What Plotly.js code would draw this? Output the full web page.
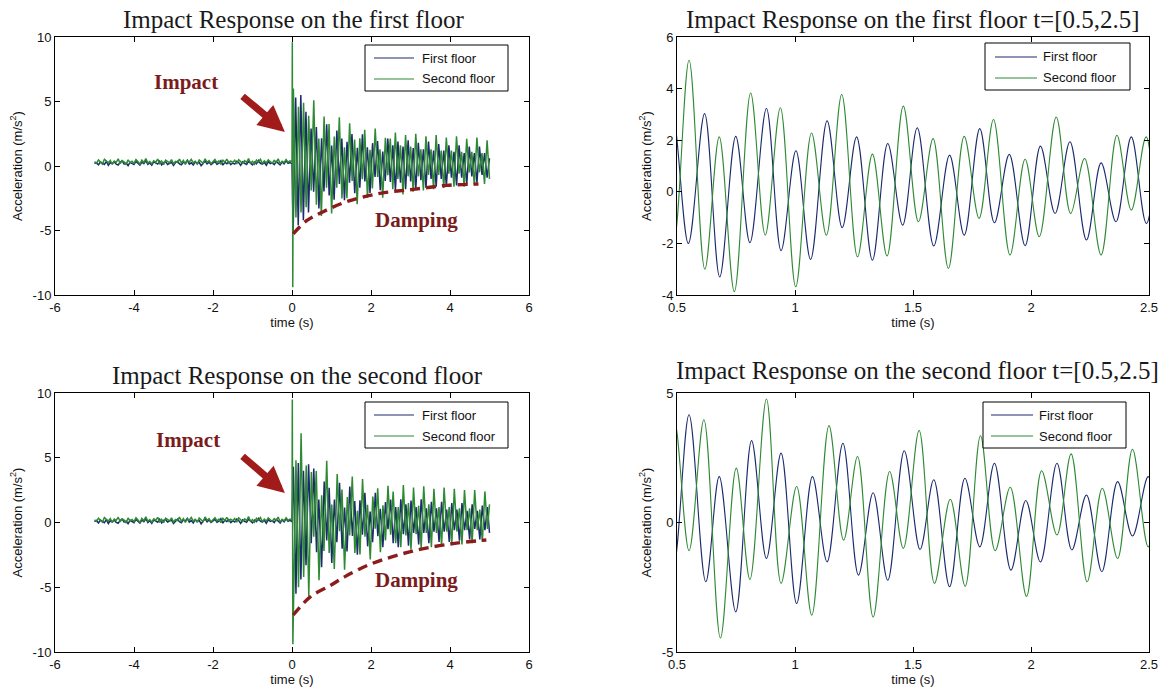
<!DOCTYPE html>
<html>
<head>
<meta charset="utf-8">
<script src="https://cdn.plot.ly/plotly-3.0.1.min.js"></script>
<style>
  html, body { margin: 0; padding: 0; background: #fff; }
  #chart { width: 1166px; height: 693px; }
</style>
</head>
<body>
<div id="chart"></div>
<script>
// ---------- sample times of the quiet record before the hit (s) ----------
const PRE_T = [-5.00,-4.95,-4.90,-4.85,-4.80,-4.75,-4.70,-4.65,-4.60,-4.55,
               -4.50,-4.45,-4.40,-4.35,-4.30,-4.25,-4.20,-4.15,-4.10,-4.05,
               -4.00,-3.95,-3.90,-3.85,-3.80,-3.75,-3.70,-3.65,-3.60,-3.55,
               -3.50,-3.45,-3.40,-3.35,-3.30,-3.25,-3.20,-3.15,-3.10,-3.05,
               -3.00,-2.95,-2.90,-2.85,-2.80,-2.75,-2.70,-2.65,-2.60,-2.55,
               -2.50,-2.45,-2.40,-2.35,-2.30,-2.25,-2.20,-2.15,-2.10,-2.05,
               -2.00,-1.95,-1.90,-1.85,-1.80,-1.75,-1.70,-1.65,-1.60,-1.55,
               -1.50,-1.45,-1.40,-1.35,-1.30,-1.25,-1.20,-1.15,-1.10,-1.05,
               -1.00,-0.95,-0.90,-0.85,-0.80,-0.75,-0.70,-0.65,-0.60,-0.55,
               -0.50,-0.45,-0.40,-0.35,-0.30,-0.25,-0.20,-0.15,-0.10,-0.05, 0.00];

// ---------- impact on the first floor: quiet record (m/s^2) ----------
const preFirst_hit1 = [0.18,0.26,0.09,0.31,0.22,0.12,0.35,0.05,0.27,0.19,
                       0.33,0.14,0.08,0.29,0.40,0.16,0.23,0.03,0.28,0.21,
                       0.11,0.36,0.25,0.07,0.30,0.18,0.42,0.13,0.24,0.06,
                       0.32,0.20,0.15,0.38,0.09,0.27,0.34,0.12,0.22,0.29,
                       0.04,0.26,0.37,0.17,0.10,0.31,0.21,0.44,0.14,0.25,
                       0.08,0.33,0.19,0.28,0.02,0.24,0.39,0.16,0.30,0.11,
                       0.27,0.35,0.13,0.22,0.41,0.07,0.29,0.18,0.34,0.10,
                       0.23,0.15,0.37,0.26,0.05,0.32,0.20,0.12,0.36,0.24,
                       0.09,0.30,0.17,0.43,0.21,0.14,0.28,0.06,0.33,0.19,
                       0.25,0.11,0.35,0.22,0.08,0.31,0.16,0.40,0.20,0.27,0.18];
const preSecond_hit1 = [0.34,0.21,0.47,0.28,0.15,0.52,0.36,0.24,0.44,0.12,
                        0.39,0.29,0.55,0.18,0.42,0.31,0.09,0.48,0.26,0.37,
                        0.20,0.50,0.33,0.14,0.45,0.27,0.58,0.22,0.35,0.16,
                        0.41,0.30,0.53,0.19,0.38,0.11,0.46,0.32,0.25,0.49,
                        0.17,0.36,0.28,0.54,0.23,0.43,0.13,0.40,0.31,0.51,
                        0.24,0.37,0.15,0.47,0.33,0.21,0.56,0.29,0.42,0.18,
                        0.35,0.50,0.26,0.39,0.12,0.45,0.30,0.53,0.22,0.38,
                        0.27,0.44,0.16,0.49,0.34,0.20,0.41,0.28,0.57,0.23,
                        0.36,0.14,0.46,0.31,0.52,0.19,0.39,0.25,0.48,0.32,
                        0.21,0.43,0.29,0.55,0.17,0.37,0.26,0.50,0.30,0.40,0.33];

// ---------- impact on the first floor: response peaks [t (s), a (m/s^2)] ----------
const postFirst_hit1 = [
  [0.028,-5.2],[0.093,5.3],[0.158,-4.6],[0.223,5.5],[0.288,-4.2],[0.353,4.2],[0.418,-3.6],
  [0.483,2.9],[0.548,-2.0],[0.617,3.03],[0.681,-3.3],[0.749,2.15],[0.809,-1.97],[0.879,3.23],
  [0.941,-2.28],[1.004,1.59],[1.066,-2.62],[1.136,2.75],[1.200,-1.39],[1.261,2.13],[1.328,-2.65],
  [1.393,1.87],[1.456,-1.29],[1.518,2.48],[1.588,-2.10],[1.655,1.42],[1.717,-1.68],[1.783,2.45],
  [1.845,-1.20],[1.908,1.45],[1.975,-2.09],[2.040,1.77],[2.102,-0.84],[2.165,1.94],[2.235,-1.87],
  [2.297,1.12],[2.360,-1.16],[2.425,2.13],[2.489,-1.23],[2.553,1.6],[2.618,-1.9],[2.682,1.9],
  [2.747,-1.3],[2.811,1.5],[2.876,-1.8],[2.940,2.0],[3.005,-1.2],[3.069,1.4],[3.134,-1.8],
  [3.198,1.8],[3.263,-1.1],[3.327,1.3],[3.392,-1.7],[3.456,1.9],[3.521,-1.0],[3.585,1.2],
  [3.650,-1.6],[3.714,1.7],[3.779,-1.0],[3.843,1.2],[3.908,-1.6],[3.972,1.6],[4.037,-0.9],
  [4.101,1.1],[4.166,-1.5],[4.230,1.6],[4.295,-0.9],[4.359,1.0],[4.424,-1.4],[4.488,1.5],
  [4.553,-0.8],[4.617,1.0],[4.682,-1.3],[4.746,1.5],[4.811,-0.7],[4.875,1.0],[4.940,-0.9],[5.000,0.6]
];
const postSecond_hit1 = [
  [0.008,9.6],[0.020,-9.4],[0.035,6.0],[0.100,-4.0],[0.164,4.6],[0.229,-3.6],[0.293,4.9],
  [0.358,-3.2],[0.422,3.9],[0.487,-1.9],[0.551,5.10],[0.618,-3.00],[0.679,2.13],[0.743,-3.87],
  [0.812,3.83],[0.874,-1.68],[0.938,3.26],[1.003,-3.68],[1.070,2.28],[1.133,-1.68],[1.198,3.77],
  [1.265,-2.52],[1.328,1.46],[1.390,-2.49],[1.459,3.32],[1.523,-1.16],[1.585,2.06],[1.650,-2.97],
  [1.717,2.15],[1.780,-1.03],[1.841,2.80],[1.911,-2.45],[1.975,1.26],[2.035,-1.74],[2.107,2.90],
  [2.168,-0.84],[2.227,1.29],[2.297,-2.45],[2.364,2.19],[2.425,-0.71],[2.488,2.13],[2.552,-1.8],
  [2.617,2.6],[2.681,-1.0],[2.746,1.6],[2.810,-2.2],[2.875,2.4],[2.939,-0.8],[3.004,1.5],
  [3.068,-2.0],[3.133,2.5],[3.197,-0.8],[3.262,1.3],[3.326,-1.9],[3.391,2.3],[3.455,-0.7],
  [3.520,1.3],[3.584,-1.8],[3.649,2.4],[3.713,-0.7],[3.778,1.2],[3.842,-1.7],[3.907,2.2],
  [3.971,-0.6],[4.036,1.2],[4.100,-1.6],[4.165,2.3],[4.229,-0.6],[4.294,1.1],[4.358,-1.6],
  [4.423,2.1],[4.487,-0.5],[4.552,1.1],[4.616,-1.5],[4.681,2.2],[4.745,-0.5],[4.810,1.0],
  [4.874,-1.4],[4.939,2.0],[5.000,-1.0]
];

// ---------- impact on the second floor: quiet record (m/s^2) ----------
const preFirst_hit2 = [0.06,0.15,-0.04,0.19,0.09,-0.02,0.22,-0.08,0.13,0.05,
                       0.20,0.01,-0.06,0.16,0.27,0.03,0.11,-0.09,0.17,0.08,
                       -0.01,0.24,0.12,-0.05,0.18,0.07,0.29,0.00,0.14,-0.07,
                       0.21,0.09,0.02,0.25,-0.03,0.16,0.23,0.04,0.10,0.19,
                       -0.08,0.13,0.26,0.06,-0.02,0.20,0.11,0.31,0.03,0.15,
                       -0.04,0.22,0.08,0.17,-0.10,0.12,0.28,0.05,0.19,0.00,
                       0.16,0.24,0.02,0.11,0.30,-0.05,0.18,0.07,0.23,-0.01,
                       0.12,0.04,0.26,0.15,-0.07,0.21,0.09,0.01,0.25,0.13,
                       -0.03,0.19,0.06,0.32,0.10,0.03,0.17,-0.06,0.22,0.08,
                       0.14,0.00,0.24,0.11,-0.04,0.20,0.05,0.28,0.09,0.16,0.07];
const preSecond_hit2 = [0.21,0.08,0.33,0.15,0.02,0.38,0.24,0.11,0.30,-0.01,
                        0.26,0.17,0.41,0.06,0.29,0.19,-0.04,0.35,0.13,0.24,
                        0.07,0.37,0.20,0.01,0.32,0.14,0.44,0.09,0.23,0.03,
                        0.28,0.18,0.40,0.06,0.25,-0.02,0.34,0.19,0.12,0.36,
                        0.04,0.23,0.15,0.42,0.10,0.30,0.00,0.27,0.18,0.39,
                        0.11,0.24,0.02,0.35,0.20,0.08,0.43,0.16,0.29,0.05,
                        0.22,0.37,0.13,0.26,-0.01,0.32,0.17,0.40,0.09,0.25,
                        0.14,0.31,0.03,0.36,0.21,0.07,0.28,0.15,0.45,0.10,
                        0.23,0.01,0.33,0.18,0.39,0.06,0.26,0.12,0.35,0.19,
                        0.08,0.30,0.16,0.42,0.04,0.24,0.13,0.37,0.17,0.27,0.20];

// ---------- impact on the second floor: response peaks [t (s), a (m/s^2)] ----------
const postFirst_hit2 = [
  [0.035,4.3],[0.100,-5.5],[0.160,4.6],[0.225,-4.4],[0.290,4.0],[0.355,-3.3],[0.420,4.5],
  [0.487,-1.6],[0.551,4.16],[0.622,-2.29],[0.679,1.77],[0.749,-3.45],[0.816,3.16],[0.879,-1.39],
  [0.941,2.68],[1.007,-3.13],[1.074,1.77],[1.136,-1.52],[1.203,3.06],[1.269,-2.03],[1.331,1.15],
  [1.393,-2.23],[1.463,2.77],[1.530,-1.04],[1.588,1.65],[1.655,-2.48],[1.720,1.71],[1.783,-0.94],
  [1.845,2.29],[1.915,-1.84],[1.978,0.85],[2.040,-1.52],[2.110,2.29],[2.173,-1.06],[2.235,1.06],
  [2.300,-1.90],[2.367,1.58],[2.430,-0.52],[2.497,1.77],[2.562,-1.6],[2.626,1.2],[2.691,-1.9],
  [2.755,1.8],[2.820,-0.9],[2.884,1.4],[2.949,-1.8],[3.013,1.7],[3.078,-0.8],[3.142,1.2],
  [3.207,-1.7],[3.271,1.8],[3.336,-0.8],[3.400,1.1],[3.465,-1.6],[3.529,1.6],[3.594,-0.7],
  [3.658,1.1],[3.723,-1.5],[3.787,1.6],[3.852,-0.7],[3.916,1.0],[3.981,-1.5],[4.045,1.5],
  [4.110,-0.6],[4.174,1.0],[4.239,-1.4],[4.303,1.5],[4.368,-0.6],[4.432,0.9],[4.497,-1.3],
  [4.561,1.4],[4.626,-0.5],[4.690,0.9],[4.755,-1.3],[4.819,1.3],[4.884,-0.6],[4.948,1.2],[5.000,-0.8]
];
const postSecond_hit2 = [
  [0.008,9.5],[0.022,-9.4],[0.100,4.8],[0.165,-5.0],[0.230,6.9],[0.295,-4.2],[0.360,4.4],
  [0.425,-5.7],[0.490,3.9],[0.551,-1.09],[0.614,3.97],[0.684,-4.46],[0.751,2.10],[0.809,-2.20],
  [0.879,4.77],[0.941,-2.35],[1.007,1.39],[1.071,-3.58],[1.144,3.74],[1.206,-0.68],[1.265,2.55],
  [1.331,-3.65],[1.401,1.97],[1.459,-1.00],[1.526,3.55],[1.591,-2.35],[1.658,0.90],[1.721,-2.46],
  [1.786,3.35],[1.848,-1.09],[1.912,1.36],[1.981,-2.85],[2.045,2.00],[2.110,-0.48],[2.170,2.65],
  [2.238,-2.29],[2.302,1.32],[2.367,-1.39],[2.430,2.83],[2.497,-0.94],[2.561,2.4],[2.626,-1.6],
  [2.690,1.2],[2.755,-1.9],[2.819,2.9],[2.884,-1.0],[2.948,1.5],[3.013,-2.1],[3.077,2.7],
  [3.142,-0.9],[3.206,1.3],[3.271,-2.0],[3.335,2.8],[3.400,-0.8],[3.464,1.4],[3.529,-1.9],
  [3.593,2.6],[3.658,-0.8],[3.722,1.2],[3.787,-1.8],[3.851,2.7],[3.916,-0.7],[3.980,1.2],
  [4.045,-1.7],[4.109,2.6],[4.174,-0.7],[4.238,1.1],[4.303,-1.7],[4.367,2.5],[4.432,-0.6],
  [4.496,1.1],[4.561,-1.6],[4.625,2.5],[4.690,-0.6],[4.754,1.0],[4.819,-1.5],[4.883,2.4],
  [4.948,-0.5],[5.000,1.4]
];

// ---------- decay envelopes drawn under each response ----------
const damping_hit1 = [[0.03,-5.27],[0.37,-4.24],[0.79,-3.54],[1.38,-2.77],[2.23,-2.12],[3.07,-1.81],[3.92,-1.5],[4.72,-1.4]];
const damping_hit2 = [[0.03,-7.14],[0.47,-5.73],[0.99,-4.83],[1.34,-4.18],[2.0,-3.2],[3.0,-2.25],[4.0,-1.66],[4.92,-1.35]];

// ---------- text ----------
const TITLES = [
  'Impact Response on the first floor',
  'Impact Response on the first floor t=[0.5,2.5]',
  'Impact Response on the second floor',
  'Impact Response on the second floor t=[0.5,2.5]'
];
const SERIES_NAMES = ['First floor', 'Second floor'];
const X_TITLE = 'time (s)';
const Y_TITLE = 'Acceleration (m/s<sup>2</sup>)';

// ---------- tick labels ----------
const TICKS_FULL_X = [-6, -4, -2, 0, 2, 4, 6];
const TICKS_FULL_Y = [-10, -5, 0, 5, 10];
const TICKS_ZOOM_X = [0.5, 1, 1.5, 2, 2.5];
const TICKS_ZOOM1_Y = [-4, -2, 0, 2, 4, 6];
const TICKS_ZOOM2_Y = [-5, 0, 5];

// ---------- styling ----------
const BLUE = '#1c2a6e';
const GREEN = '#2f8a34';
const RED = '#8c1c1c';
const SANS = 'Liberation Sans, Arial, sans-serif';
const SERIF = 'Liberation Serif, Times New Roman, serif';
const W = 1166, H = 693;

const px = v => v / W;
const py = v => 1 - v / H;
const label = v => String(v);

function fullSeries(pre, post) {
  return {
    x: PRE_T.concat(post.map(p => p[0])),
    y: pre.concat(post.map(p => p[1]))
  };
}

function axis(domain, anchor, range, ticks, titleText, standoff) {
  return {
    domain: domain, anchor: anchor, range: range,
    tickmode: 'array', tickvals: ticks, ticktext: ticks.map(label),
    ticks: 'inside', ticklen: 5, tickcolor: '#000', tickwidth: 1,
    showline: true, linecolor: '#000', linewidth: 1, mirror: 'ticks',
    showgrid: false, zeroline: false, fixedrange: true,
    tickfont: { family: SANS, size: 13, color: '#111' },
    title: { text: titleText, font: { family: SANS, size: 13, color: '#111' }, standoff: standoff },
    automargin: false
  };
}

const traces = [];
function addPanel(suffix, pre1, post1, pre2, post2, zoomed) {
  const xa = 'x' + suffix, ya = 'y' + suffix;
  const s1 = zoomed ? { x: post1.map(p => p[0]), y: post1.map(p => p[1]) } : fullSeries(pre1, post1);
  const s2 = zoomed ? { x: post2.map(p => p[0]), y: post2.map(p => p[1]) } : fullSeries(pre2, post2);
  const shape = zoomed ? 'spline' : 'linear';
  const w = zoomed ? 1.1 : 1.5;
  traces.push({
    type: 'scatter', mode: 'lines', name: SERIES_NAMES[0], x: s1.x, y: s1.y,
    xaxis: xa, yaxis: ya, showlegend: false, hoverinfo: 'skip',
    line: { color: BLUE, width: w, shape: shape }
  });
  traces.push({
    type: 'scatter', mode: 'lines', name: SERIES_NAMES[1], x: s2.x, y: s2.y,
    xaxis: xa, yaxis: ya, showlegend: false, hoverinfo: 'skip',
    line: { color: GREEN, width: w, shape: shape }
  });
}
function addDamping(suffix, env) {
  traces.push({
    type: 'scatter', mode: 'lines', showlegend: false, hoverinfo: 'skip',
    x: env.map(p => p[0]), y: env.map(p => p[1]),
    xaxis: 'x' + suffix, yaxis: 'y' + suffix,
    line: { color: RED, width: 3.4, dash: '10px,6px', shape: 'spline' }
  });
}

addPanel('', preFirst_hit1, postFirst_hit1, preSecond_hit1, postSecond_hit1, false);
addDamping('', damping_hit1);
addPanel('2', null, postFirst_hit1, null, postSecond_hit1, true);
addPanel('3', preFirst_hit2, postFirst_hit2, preSecond_hit2, postSecond_hit2, false);
addDamping('3', damping_hit2);
addPanel('4', null, postFirst_hit2, null, postSecond_hit2, true);

// panel boxes in page pixels
const LEFT_X = [px(55), px(529)], RIGHT_X = [px(677), px(1149)];
const TOP_Y = [py(295), py(37)], BOT_Y = [py(652), py(393)];

// boxed key: frame, two line samples and the series names
const shapes = [];
const annotations = [];
function keyBox(x0, x1, y0, y1, lineX0, lineX1, textX, rowY) {
  shapes.push({ type: 'rect', xref: 'paper', yref: 'paper',
    x0: px(x0), x1: px(x1), y0: py(y1), y1: py(y0),
    line: { color: '#000', width: 1 }, fillcolor: '#fff', layer: 'above' });
  [BLUE, GREEN].forEach((c, i) => {
    shapes.push({ type: 'line', xref: 'paper', yref: 'paper',
      x0: px(lineX0), x1: px(lineX1), y0: py(rowY[i]), y1: py(rowY[i]),
      line: { color: c, width: 1.2 }, layer: 'above' });
    annotations.push({ text: SERIES_NAMES[i], xref: 'paper', yref: 'paper',
      x: px(textX), y: py(rowY[i]), xanchor: 'left', yanchor: 'middle', showarrow: false,
      font: { family: SANS, size: 13, color: '#111' } });
  });
}
keyBox(365, 508, 45, 91, 374, 414, 420, [58, 79]);
keyBox(985, 1130, 43, 90, 995, 1037, 1041, [57, 78]);
keyBox(365, 508, 402, 448, 374, 414, 420, [415, 436]);
keyBox(983, 1126, 402, 448, 991, 1033, 1037, [415, 436]);

function titleAnn(text, cx, cy) {
  return {
    text: text, xref: 'paper', yref: 'paper', x: px(cx), y: py(cy),
    xanchor: 'center', yanchor: 'middle', showarrow: false,
    font: { family: SERIF, size: 25, color: '#1a1a1a' }
  };
}
function noteAnn(text, xr, yr, x, y) {
  return {
    text: '<b>' + text + '</b>', xref: xr, yref: yr, x: x, y: y,
    xanchor: 'center', yanchor: 'middle', showarrow: false,
    font: { family: SERIF, size: 21, color: '#7a1c1c' }
  };
}
function arrowAnn(xr, yr, hx, hy, tx, ty) {
  return {
    text: '', xref: xr, yref: yr, x: hx, y: hy, axref: xr, ayref: yr, ax: tx, ay: ty,
    showarrow: true, arrowhead: 2, arrowsize: 0.75, arrowwidth: 7,
    arrowcolor: '#a11b1b', standoff: 0, startstandoff: 0
  };
}

annotations.push(
  titleAnn(TITLES[0], 294, 20),
  titleAnn(TITLES[1], 913, 20),
  titleAnn(TITLES[2], 297, 375),
  titleAnn(TITLES[3], 917, 370),
  noteAnn('Impact', 'x', 'y', -2.68, 6.5),
  noteAnn('Damping', 'x', 'y', 3.16, -4.2),
  noteAnn('Impact', 'x3', 'y3', -2.63, 6.37),
  noteAnn('Damping', 'x3', 'y3', 3.16, -4.44),
  arrowAnn('x', 'y', -0.18, 2.64, -1.29, 5.5),
  arrowAnn('x3', 'y3', -0.18, 2.28, -1.29, 5.21)
);

const layout = {
  width: W, height: H,
  margin: { l: 0, r: 0, t: 0, b: 0 },
  paper_bgcolor: '#fff', plot_bgcolor: '#fff',
  showlegend: false,
  xaxis: axis(LEFT_X, 'y', [-6, 6], TICKS_FULL_X, X_TITLE, 3),
  yaxis: axis(TOP_Y, 'x', [-10, 10], TICKS_FULL_Y, Y_TITLE, 7),
  xaxis2: axis(RIGHT_X, 'y2', [0.5, 2.5], TICKS_ZOOM_X, X_TITLE, 3),
  yaxis2: axis(TOP_Y, 'x2', [-4, 6], TICKS_ZOOM1_Y, Y_TITLE, 7),
  xaxis3: axis(LEFT_X, 'y3', [-6, 6], TICKS_FULL_X, X_TITLE, 3),
  yaxis3: axis(BOT_Y, 'x3', [-10, 10], TICKS_FULL_Y, Y_TITLE, 7),
  xaxis4: axis(RIGHT_X, 'y4', [0.5, 2.5], TICKS_ZOOM_X, X_TITLE, 3),
  yaxis4: axis(BOT_Y, 'x4', [-5, 5], TICKS_ZOOM2_Y, Y_TITLE, 7),
  shapes: shapes,
  annotations: annotations
};

Plotly.newPlot('chart', traces, layout, { staticPlot: true, displayModeBar: false });
</script>
</body>
</html>
